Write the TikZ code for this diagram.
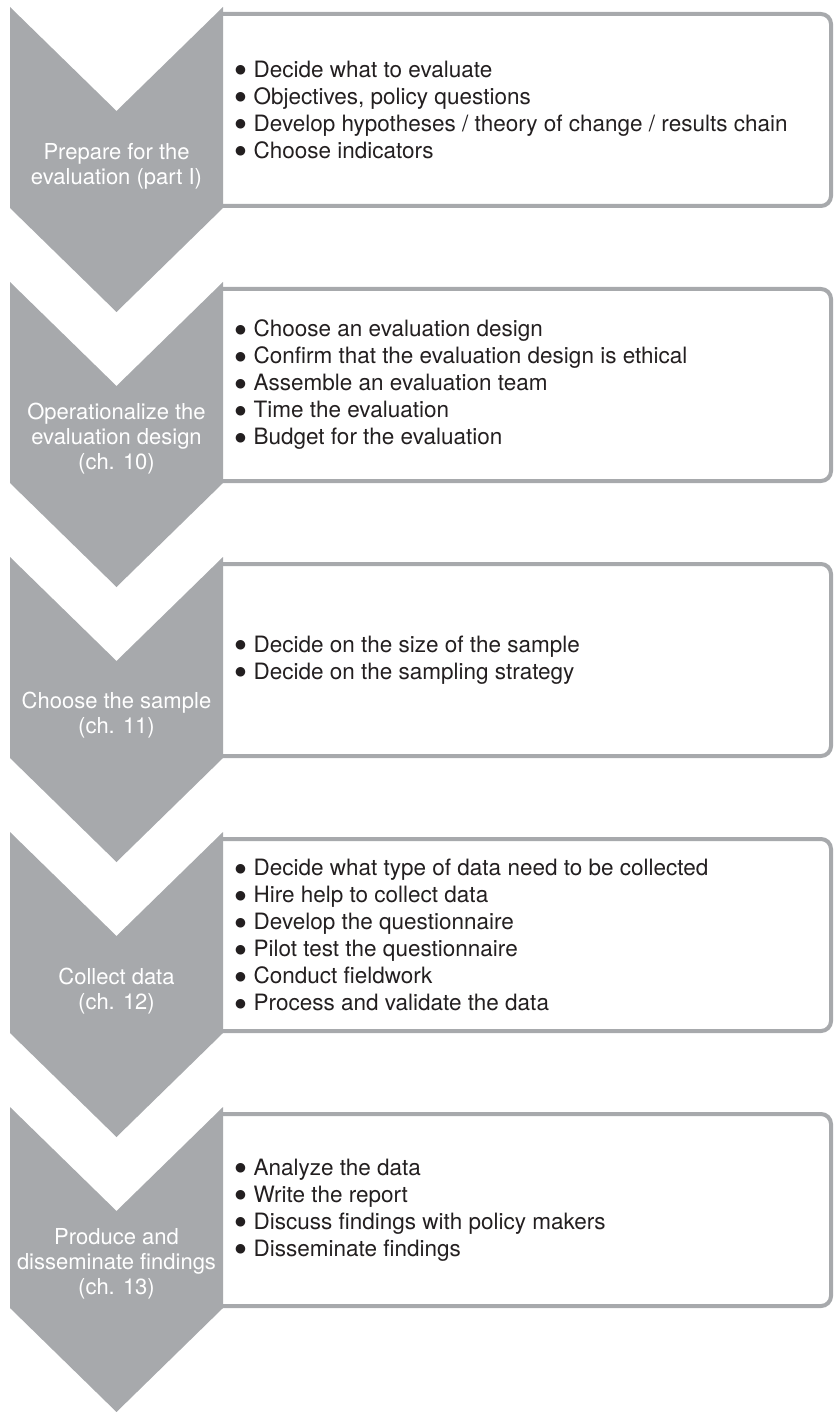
\documentclass[tikz,border=0pt]{standalone}
\usepackage{fontspec}
\setmainfont{TeX Gyre Heros}
\newfontfamily\dotfont{DejaVu Sans}
\definecolor{chevgray}{RGB}{167,169,172}
\definecolor{inkgray}{RGB}{35,31,32}
\newcommand{\itm}{\raisebox{3.5pt}{\fontsize{12.5}{12.5}\dotfont ●}\hspace{7.5pt}}

\begin{document}
\begin{tikzpicture}[
  x=1pt, y=-1pt,
  chevron/.style={fill=chevgray, draw=none},
  frame/.style={draw=chevgray, line width=4pt, fill=white, rounded corners=10pt},
  steplabel/.style={text=white, align=center, inner sep=0pt, font=\fontsize{22}{25}\selectfont},
  itemlist/.style={text=inkgray, align=left, anchor=west, inner sep=0pt, font=\fontsize{22.5}{27}\selectfont},
]
\useasboundingbox (0,0) rectangle (834,1412);

% ---------- geometry ----------
\def\xL{10}      % chevron left edge
\def\xM{116.5}   % chevron middle
\def\xR{223}     % chevron right edge / frame left
\def\xE{831}     % frame right edge
\def\P{275}      % row pitch

% =====================================================
% frames and chevrons, one per row
% =====================================================
\foreach \i in {0,...,4} {
  \pgfmathsetmacro\T{7+\P*\i}
  \draw[frame] (221,\T+7) -- (\xE,\T+7) -- (\xE,\T+199) -- (221,\T+199);
  \fill[chevron] (\xL,\T) -- (\xM,\T+104) -- (\xR,\T) -- (\xR,\T+201)
    -- (\xM,\T+305) -- (\xL,\T+201) -- cycle;
}

% =====================================================
% ROW 1 : prepare
% =====================================================
\node[steplabel] (prep) at (\xM,166) {Prepare for the\\evaluation (part I)};
\node[itemlist] (prepitems) at (235,110) {\itm Decide what to evaluate\\
  \itm Objectives, policy questions\\
  \itm Develop hypotheses / theory of change / results chain\\
  \itm Choose indicators};

% =====================================================
% ROW 2 : operationalize
% =====================================================
\node[steplabel] (oper) at (\xM,439) {Operationalize the\\evaluation design\\(ch. 10)};
\node[itemlist] (operitems) at (235,385) {\itm Choose an evaluation design\\
  \itm Confirm that the evaluation design is ethical\\
  \itm Assemble an evaluation team\\
  \itm Time the evaluation\\
  \itm Budget for the evaluation};

% =====================================================
% ROW 3 : sample
% =====================================================
\node[steplabel] (samp) at (\xM,715) {Choose the sample\\(ch. 11)};
\node[itemlist] (sampitems) at (235,660) {\itm Decide on the size of the sample\\
  \itm Decide on the sampling strategy};

% =====================================================
% ROW 4 : collect
% =====================================================
\node[steplabel] (coll) at (\xM,991) {Collect data\\(ch. 12)};
\node[itemlist] (collitems) at (235,935) {\itm Decide what type of data need to be collected\\
  \itm Hire help to collect data\\
  \itm Develop the questionnaire\\
  \itm Pilot test the questionnaire\\
  \itm Conduct fieldwork\\
  \itm Process and validate the data};

% =====================================================
% ROW 5 : produce
% =====================================================
\node[steplabel] (prod) at (\xM,1264) {Produce and\\disseminate findings\\(ch. 13)};
\node[itemlist] (proditems) at (235,1210) {\itm Analyze the data\\
  \itm Write the report\\
  \itm Discuss findings with policy makers\\
  \itm Disseminate findings};

\end{tikzpicture}
\end{document}
